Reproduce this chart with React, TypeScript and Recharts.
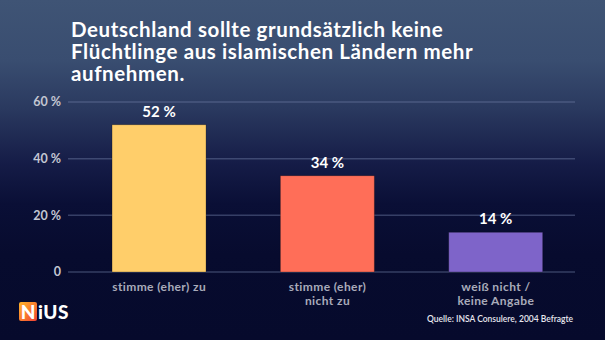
import React from "react";
import { BarChart, Bar, XAxis, YAxis, CartesianGrid, Cell, LabelList } from "recharts";

const titleLines = [
  "Deutschland sollte grundsätzlich keine",
  "Flüchtlinge aus islamischen Ländern mehr",
  "aufnehmen.",
];
const categories = ["stimme (eher) zu", "stimme (eher)\nnicht zu", "weiß nicht /\nkeine Angabe"];
const values = [52, 34, 14];
const barColors = ["#FFCE6A", "#FF6E58", "#7E64C9"];
const yTicks = [0, 20, 40, 60];
const source = "Quelle: INSA Consulere, 2004 Befragte";

const data = categories.map((c, i) => ({ name: c, value: values[i] }));

const FONT = "Lato, 'Open Sans', sans-serif";

const CatTick = (props: any) => {
  const { x, y, payload } = props;
  const lines = String(payload.value).split("\n");
  return (
    <g>
      {lines.map((l, i) => (
        <text
          key={i}
          x={x}
          y={y + 11 + i * 13.5}
          textAnchor="middle"
          fill="#a9abba"
          fontSize={12}
          fontWeight={700}
          letterSpacing={0.4}
          fontFamily={FONT}
        >
          {l}
        </text>
      ))}
    </g>
  );
};

const gridLine = (p: any) => (
  <line key={p.key ?? `g${p.index}`} x1={p.x1 - 7} x2={p.x2 - 5} y1={p.y1} y2={p.y2} stroke="rgba(110,125,165,0.45)" strokeWidth={1.5} />
);

export default function App() {
  return (
    <div
      style={{
        position: "fixed",
        left: 0,
        top: 0,
        width: 605,
        height: 340,
        overflow: "hidden",
        background:
          "linear-gradient(to bottom, #3f5475 0%, #394d70 18%, #2a395f 32%, #151c47 48%, #0a0f36 60%, #070b2e 75%, #060a2c 100%)",
        fontFamily: FONT,
      }}
    >
      <div
        style={{
          position: "absolute",
          left: 71,
          top: 18,
          color: "#ffffff",
          fontSize: 20.5,
          fontWeight: 700,
          letterSpacing: 0.6,
          lineHeight: "22px",
          fontFamily: FONT,
          whiteSpace: "nowrap",
        }}
      >
        {titleLines.map((l, i) => (
          <div key={i}>{l}</div>
        ))}
      </div>
      <div style={{ position: "absolute", left: 0, top: 0 }}>
        <BarChart width={605} height={340} data={data} margin={{ top: 102, right: 25, bottom: 0, left: 0 }} barCategoryGap="22%">
          <CartesianGrid vertical={false} horizontal={gridLine} />
          <YAxis
            type="number"
            domain={[0, 60]}
            ticks={yTicks}
            width={75}
            axisLine={false}
            tickLine={false}
            tickMargin={8}
            tickFormatter={(v: number) => (v === 0 ? "0" : `${v} %`)}
            tick={{ fill: "#c3c6d2", fontSize: 12.5, fontFamily: FONT, fontWeight: 700 }}
          />
          <XAxis dataKey="name" height={68} axisLine={false} tickLine={false} interval={0} tick={<CatTick />} />
          <Bar dataKey="value" isAnimationActive={false} strokeWidth={1}>
            {data.map((d, i) => (
              <Cell key={i} fill={barColors[i]} stroke="rgba(0,0,0,0.25)" />
            ))}
            <LabelList
              dataKey="value"
              position="top"
              offset={8}
              formatter={(v: any) => `${v} %`}
              fill="#ffffff"
              fontSize={15}
              fontWeight={700}
              fontFamily={FONT}
            />
          </Bar>
        </BarChart>
      </div>
      <div
        style={{
          position: "absolute",
          left: 19,
          top: 302,
          height: 19,
          display: "flex",
          alignItems: "center",
          fontFamily: FONT,
          fontWeight: 900,
          fontSize: 19,
          color: "#ffffff",
          lineHeight: "19px",
        }}
      >
        <span
          style={{
            display: "inline-block",
            width: 18,
            height: 19,
            background: "linear-gradient(135deg, #ffb52b 0%, #f9782e 55%, #ee3f35 100%)",
            textAlign: "center",
            borderRadius: 2,
          }}
        >
          N
        </span>
        <span style={{ marginLeft: 1, letterSpacing: 0.5 }}>iUS</span>
      </div>
      <div
        style={{
          position: "absolute",
          left: 427,
          top: 314,
          fontSize: 8.5,
          color: "#e6e7ee",
          fontFamily: FONT,
          fontWeight: 600,
          whiteSpace: "nowrap",
        }}
      >
        {source}
      </div>
    </div>
  );
}
